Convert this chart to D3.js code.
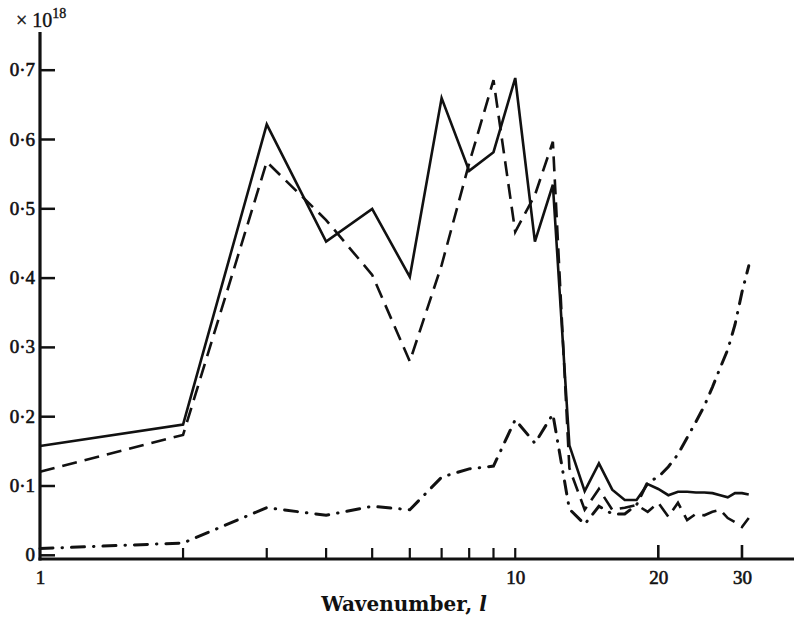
<!DOCTYPE html>
<html lang="en">
<head>
<meta charset="UTF-8">
<title>Wavenumber spectrum</title>
<script src="https://d3js.org/d3.v7.min.js"></script>
<style>
  body { margin: 0; background: #fff; }
  svg text { font-family: "Liberation Serif", "DejaVu Serif", serif; fill: #111; }
</style>
</head>
<body>
<svg id="chart" width="794" height="621"></svg>
<script>
// wavenumbers l = 1..31
const wavenumbers = d3.range(1, 32);

// values in units of 10^18
const solidValues = [0.157, 0.188, 0.621, 0.452, 0.499, 0.401, 0.659, 0.554, 0.581, 0.688,
  0.452, 0.534, 0.158, 0.092, 0.132, 0.094, 0.079, 0.079, 0.102, 0.095,
  0.086, 0.091, 0.091, 0.090, 0.090, 0.089, 0.086, 0.083, 0.089, 0.089, 0.087];

const dashedValues = [0.120, 0.173, 0.567, 0.483, 0.404, 0.279, 0.418, 0.565, 0.685, 0.466,
  0.519, 0.596, 0.125, 0.065, 0.095, 0.065, 0.068, 0.072, 0.062, 0.075,
  0.055, 0.075, 0.050, 0.059, 0.057, 0.062, 0.065, 0.053, 0.047, 0.040, 0.053];

const dashDotValues = [0.009, 0.017, 0.068, 0.057, 0.070, 0.065, 0.112, 0.124, 0.128, 0.195,
  0.161, 0.203, 0.066, 0.044, 0.070, 0.059, 0.059, 0.072, 0.105, 0.112,
  0.127, 0.145, 0.169, 0.192, 0.215, 0.242, 0.270, 0.296, 0.332, 0.379, 0.417];

const yTicks = [0, 0.1, 0.2, 0.3, 0.4, 0.5, 0.6, 0.7];
const xLabelTicks = [1, 10, 20, 30];
const xMinorTicks = [2, 3, 4, 5, 6, 7, 8, 9, 10];
const xMajorTicks = [20, 30];

const svg = d3.select("#chart");
const ink = "#111";
const serif = "Liberation Serif, DejaVu Serif, serif";

const x = d3.scaleLog().domain([1, 38.6]).range([40, 794]);
const y = d3.scaleLinear().domain([0, 0.7]).range([554.8, 69.7]);
const axisY = 559;

// y axis (ticks pointing inward)
const yAxis = d3.axisLeft(y)
  .tickValues(yTicks)
  .tickSizeInner(-15)
  .tickSizeOuter(0)
  .tickPadding(5)
  .tickFormat(d => d === 0 ? "0" : d3.format(".1f")(d).replace(".", "\u00B7"));

const gy = svg.append("g").attr("transform", "translate(40,0)").call(yAxis)
  .attr("font-family", serif);
gy.select(".domain").remove();
gy.selectAll(".tick line").attr("stroke", ink).attr("stroke-width", 2.5);
gy.selectAll(".tick text")
  .style("font-size", "19px")
  .attr("fill", ink)
  .attr("stroke", ink).attr("stroke-width", 0.6);

// axis lines
svg.append("line").attr("x1", 40).attr("x2", 40).attr("y1", 32).attr("y2", axisY + 1.5)
  .attr("stroke", ink).attr("stroke-width", 3.2);
svg.append("line").attr("x1", 38.5).attr("x2", 794).attr("y1", axisY).attr("y2", axisY)
  .attr("stroke", ink).attr("stroke-width", 3);

// x axis labels
const xAxis = d3.axisBottom(x).tickValues(xLabelTicks).tickSize(0).tickPadding(12)
  .tickFormat(d3.format("d"));
const gx = svg.append("g").attr("transform", `translate(0,${axisY})`).call(xAxis)
  .attr("font-family", serif);
gx.select(".domain").remove();
gx.selectAll(".tick text")
  .style("font-size", "19px")
  .attr("fill", ink)
  .attr("stroke", ink).attr("stroke-width", 0.6);

// x ticks pointing upward
svg.append("g").selectAll("line").data(xMinorTicks).join("line")
  .attr("x1", d => x(d)).attr("x2", d => x(d))
  .attr("y1", axisY).attr("y2", axisY - 11)
  .attr("stroke", ink).attr("stroke-width", 2.2);
svg.append("g").selectAll("line").data(xMajorTicks).join("line")
  .attr("x1", d => x(d)).attr("x2", d => x(d))
  .attr("y1", axisY).attr("y2", axisY - 14)
  .attr("stroke", ink).attr("stroke-width", 2.6);

// axis titles
svg.append("text")
  .attr("x", 404).attr("y", 611)
  .attr("text-anchor", "middle")
  .style("font-family", "DejaVu Serif, serif")
  .style("font-size", "20px")
  .style("font-weight", "bold")
  .text("Wavenumber, ")
  .append("tspan").style("font-style", "italic").text("l");

const mult = svg.append("text").attr("x", 16).attr("y", 27).style("font-size", "20px")
  .attr("stroke", ink).attr("stroke-width", 0.4);
mult.append("tspan").text("\u00D7 10");
mult.append("tspan").attr("dy", -9).style("font-size", "14px").text("18");

// series
const line = d3.line().x((d, i) => x(wavenumbers[i])).y(d => y(d));

svg.append("path").datum(solidValues)
  .attr("d", line).attr("fill", "none")
  .attr("stroke", ink).attr("stroke-width", 2.6).attr("stroke-linejoin", "miter");

svg.append("path").datum(dashedValues)
  .attr("d", line).attr("fill", "none")
  .attr("stroke", ink).attr("stroke-width", 2.6)
  .attr("stroke-dasharray", "15,8");

svg.append("path").datum(dashDotValues)
  .attr("d", line).attr("fill", "none")
  .attr("stroke", ink).attr("stroke-width", 3)
  .attr("stroke-linecap", "round")
  .attr("stroke-dasharray", "13,9,0.5,9");
</script>
</body>
</html>
